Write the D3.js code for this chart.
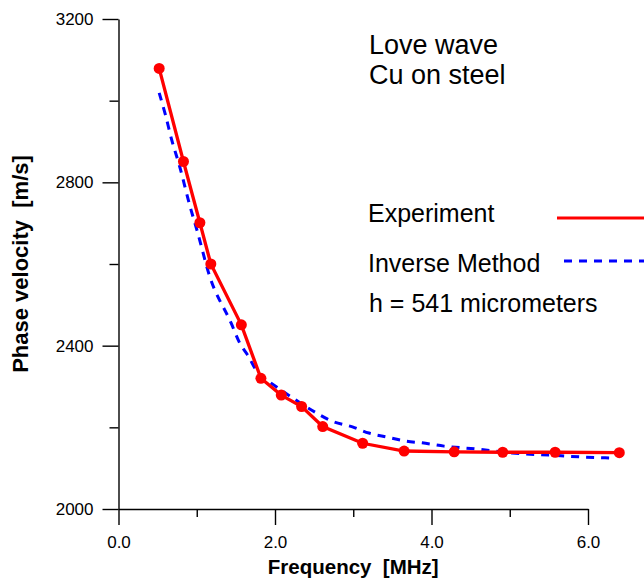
<!DOCTYPE html>
<html>
<head>
<meta charset="utf-8">
<script src="https://cdn.jsdelivr.net/npm/d3@7"></script>
<style>
  html, body { margin: 0; padding: 0; background: #fff; }
  text { font-family: "Liberation Sans", Arial, sans-serif; fill: #000; }
</style>
</head>
<body>
<svg id="chart"></svg>
<script>
const expFreq = [0.52, 0.83, 1.04, 1.18, 1.57, 1.82, 2.08, 2.34, 2.61, 3.12, 3.65, 4.29, 4.91, 5.58, 6.40]
const expVel  = [3079, 2851, 2701, 2600, 2451, 2320, 2279, 2251, 2202, 2161, 2142, 2140, 2139, 2139, 2138]

const fitFreq = [0.52, 0.60, 0.68, 0.78, 0.91, 1.01, 1.16, 1.44, 1.55, 1.65, 1.80, 1.93, 2.21, 2.53, 2.73, 2.99, 3.20, 3.43, 3.68, 3.88, 4.16, 4.57, 5.03, 5.50, 5.97, 6.27]
const fitVel  = [3019, 2965, 2904, 2840, 2744, 2678, 2573, 2455, 2406, 2377, 2328, 2311, 2274, 2235, 2215, 2201, 2186, 2176, 2166, 2162, 2154, 2147, 2137, 2132, 2127, 2125]

const xMajor = [0, 2, 4, 6]
const xMinor = [1, 3, 5]
const yMajor = [2000, 2400, 2800, 3200]
const yMinor = [2200, 2600, 3000]

const titleLines = ["Love wave", "Cu on steel"]
const legendItems = [
  {label: "Experiment", color: "#ff0000", dash: null},
  {label: "Inverse Method", color: "#0000ff", dash: "8,7"}
]
const noteText = "h = 541 micrometers"

const width = 644, height = 581
const svg = d3.select("#chart")
  .attr("width", width)
  .attr("height", height)

const x = d3.scaleLinear().domain([0, 6]).range([118.5, 588])
const y = d3.scaleLinear().domain([2000, 3200]).range([509, 19])

// axes: long outward major ticks, short minor ticks
svg.append("g")
  .attr("transform", `translate(0,${y(2000)})`)
  .call(d3.axisBottom(x).tickValues(xMajor).tickSize(16).tickSizeOuter(0).tickPadding(14)
    .tickFormat(d3.format(".1f")))
  .call(g => g.selectAll("text").attr("font-size", 17).attr("dy", "0.55em"))

svg.append("g")
  .attr("transform", `translate(0,${y(2000)})`)
  .call(d3.axisBottom(x).tickValues(xMinor).tickSize(8).tickFormat(""))
  .call(g => g.select(".domain").remove())

svg.append("g")
  .attr("transform", `translate(${x(0)},0)`)
  .call(d3.axisLeft(y).tickValues(yMajor).tickSize(16).tickSizeOuter(0).tickPadding(9)
    .tickFormat(d3.format("d")))
  .call(g => g.selectAll("text").attr("font-size", 17))

svg.append("g")
  .attr("transform", `translate(${x(0)},0)`)
  .call(d3.axisLeft(y).tickValues(yMinor).tickSize(9).tickFormat(""))
  .call(g => g.select(".domain").remove())

svg.selectAll(".domain, .tick line")
  .attr("stroke", "#000")
  .attr("stroke-width", 1.4)

// axis titles
svg.append("text")
  .attr("x", x(3))
  .attr("y", 574)
  .attr("text-anchor", "middle")
  .attr("font-size", 20.5)
  .attr("font-weight", "bold")
  .style("white-space", "pre")
  .text("Frequency  [MHz]")

svg.append("text")
  .attr("transform", `translate(28,${(y(2000) + y(3200)) / 2}) rotate(-90)`)
  .attr("text-anchor", "middle")
  .attr("font-size", 22)
  .attr("font-weight", "bold")
  .style("white-space", "pre")
  .text("Phase velocity  [m/s]")

// series
const fit = fitFreq.map((f, i) => ({f, v: fitVel[i]}))
const exp = expFreq.map((f, i) => ({f, v: expVel[i]}))

svg.append("path")
  .datum(fit)
  .attr("fill", "none")
  .attr("stroke", "#0000ff")
  .attr("stroke-width", 3)
  .attr("stroke-dasharray", "8,7")
  .attr("d", d3.line().x(d => x(d.f)).y(d => y(d.v)).curve(d3.curveMonotoneX))

svg.append("path")
  .datum(exp)
  .attr("fill", "none")
  .attr("stroke", "#ff0000")
  .attr("stroke-width", 3.3)
  .attr("d", d3.line().x(d => x(d.f)).y(d => y(d.v)))

svg.append("g")
  .selectAll("circle")
  .data(exp)
  .enter().append("circle")
  .attr("cx", d => x(d.f))
  .attr("cy", d => y(d.v))
  .attr("r", 5.5)
  .attr("fill", "#ff0000")

// annotation + legend
svg.append("g")
  .selectAll("text")
  .data(titleLines)
  .enter().append("text")
  .attr("x", 369)
  .attr("y", (d, i) => 54 + i * 30)
  .attr("font-size", 27)
  .text(d => d)

const legend = svg.append("g")
  .selectAll("g")
  .data(legendItems)
  .enter().append("g")

legend.append("text")
  .attr("x", 368)
  .attr("y", (d, i) => 222 + i * 49.5)
  .attr("font-size", 25)
  .text(d => d.label)

legend.append("line")
  .attr("x1", (d, i) => i ? 564 : 557)
  .attr("x2", 650)
  .attr("y1", (d, i) => 218 + i * 43)
  .attr("y2", (d, i) => 218 + i * 43)
  .attr("stroke", d => d.color)
  .attr("stroke-width", 3)
  .attr("stroke-dasharray", d => d.dash)

svg.append("text")
  .attr("x", 369)
  .attr("y", 312)
  .attr("font-size", 25)
  .text(noteText)
</script>
</body>
</html>
